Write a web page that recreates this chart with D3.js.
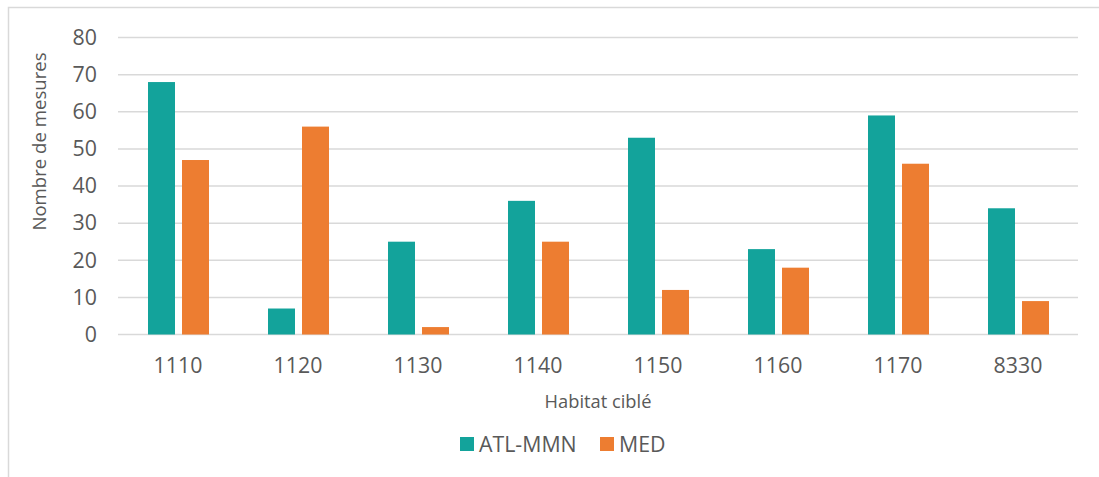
<!DOCTYPE html>
<html><head><meta charset="utf-8">
<script src="https://cdn.jsdelivr.net/npm/d3@7"></script>
<style>body{margin:0;background:#fff;} text{font-family:"Open Sans",sans-serif;fill:#595959;}</style>
</head><body>
<svg id="c" width="1099" height="477"></svg>
<script>
const categories = ["1110","1120","1130","1140","1150","1160","1170","8330"];
const seriesNames = ["ATL-MMN","MED"];
const atlValues = [68,7,25,36,53,23,59,34];
const medValues = [47,56,2,25,12,18,46,9];
const yTicks = [0,10,20,30,40,50,60,70,80];
const colors = ["#13A39B","#ED7D31"];
const xTitle = "Habitat ciblé";
const yTitle = "Nombre de mesures";

const svg = d3.select("#c");
svg.append("rect").attr("x",8.5).attr("y",7.5).attr("width",1200).attr("height",600)
  .attr("fill","#fff").attr("stroke","#d9d9d9").attr("stroke-width",1.5);

const L=118,R=1078,T=37.5,B=334.5;
const x0 = d3.scaleBand().domain(categories).range([L,R]);
const x1 = d3.scaleBand().domain(seriesNames).range([30,91]).paddingInner(0.206);
const y = d3.scaleLinear().domain([0,80]).range([B,T]);

const g = svg.append("g");
g.selectAll("line.grid").data(yTicks).enter().append("line")
  .attr("x1",L).attr("x2",R).attr("y1",d=>y(d)).attr("y2",d=>y(d))
  .attr("stroke","#d9d9d9").attr("stroke-width",1.5);

const data = categories.map((c,i)=>({c, vals:[atlValues[i],medValues[i]]}));
const grp = g.selectAll("g.cat").data(data).enter().append("g")
  .attr("transform",d=>`translate(${x0(d.c)},0)`);
grp.selectAll("rect").data(d=>d.vals.map((v,j)=>({s:seriesNames[j],v,j}))).enter().append("rect")
  .attr("x",d=>x1(d.s)).attr("width",x1.bandwidth())
  .attr("y",d=>y(d.v)).attr("height",d=>y(0)-y(d.v))
  .attr("fill",d=>colors[d.j]);

const fs = "21.33px";
const yAxis = d3.axisLeft(y).tickValues(yTicks).tickSize(0).tickPadding(0);
const ya = svg.append("g").attr("transform",`translate(97,0)`).call(yAxis);
ya.select(".domain").remove();
ya.selectAll("text").style("font-size",fs).attr("fill","#595959").style("font-family","'Open Sans',sans-serif");

const xAxis = d3.axisBottom(x0).tickSize(0).tickPadding(0);
const xa = svg.append("g").attr("transform",`translate(0,358)`).call(xAxis);
xa.select(".domain").remove();
xa.selectAll("text").style("font-size",fs).attr("fill","#595959").style("font-family","'Open Sans',sans-serif");

svg.append("text").attr("x",598).attr("y",408).attr("text-anchor","middle")
  .style("font-size","18.3px").text(xTitle);
svg.append("text").attr("transform","translate(46,141.5) rotate(-90)").attr("text-anchor","middle")
  .style("font-size","18.6px").text(yTitle);

const leg = [{x:460,tx:479},{x:600,tx:619}];
seriesNames.forEach((s,i)=>{
  svg.append("rect").attr("x",leg[i].x).attr("y",437).attr("width",14).attr("height",14).attr("fill",colors[i]);
  svg.append("text").attr("x",leg[i].tx).attr("y",452).style("font-size",fs).text(s);
});
</script>
</body></html>
